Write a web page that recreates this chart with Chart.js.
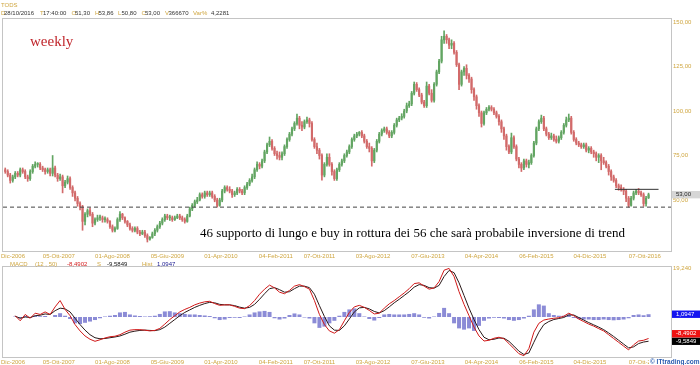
<!DOCTYPE html>
<html><head><meta charset="utf-8">
<script src="https://cdn.jsdelivr.net/npm/chart.js@4.4.0/dist/chart.umd.min.js"></script>
<style>
html,body{margin:0;padding:0;background:#fff;width:700px;height:365px;overflow:hidden;position:relative;font-family:"Liberation Sans",Arial,sans-serif;}
canvas{position:absolute;left:0;}
#c1{top:0;}
#c2{top:260px;}
.t{position:absolute;white-space:nowrap;font-size:6px;line-height:1;}
#weekly{position:absolute;left:30px;top:33.6px;font-family:"Liberation Serif","Times New Roman",serif;font-size:15px;line-height:1;color:#c0262c;white-space:nowrap;}
#note{position:absolute;left:200px;top:226px;font-family:"Liberation Serif","Times New Roman",serif;font-size:13px;line-height:1;color:#000;white-space:nowrap;}
#copy{position:absolute;left:649px;top:358.5px;font-size:6.5px;line-height:1;font-weight:bold;color:#2a5cb0;background:#fff;padding:0 2px 0 1px;white-space:nowrap;}
</style></head>
<body>
<canvas id="c1" width="700" height="260"></canvas>
<canvas id="c2" width="700" height="105"></canvas>
<div id="hdr"></div>
<div id="weekly">weekly</div>
<div id="note">46 supporto di lungo e buy in rottura dei 56 che sarà probabile inversione di trend</div>
<div id="mh"></div>
<div id="copy">© ITtrading.com</div>
<script>
// ---------- DATA (two-week candles, weeks counted from 01/12/2006) ----------
const opens = [
67,66,64,61,63,65,64,67,66,63, 62,66,69,70,70,68,67,66,67,65,
68,64,62,63,58,60,62,57,54,51, 48,46,38,42,44,42,37,39,40,40,
39,39,38,35,33,34,39,42,40,38, 36,34,33,34,32,31,32,30,28,29,
31,33,35,37,39,41,40,40,39,40, 41,40,39,38,41,45,47,49,50,53,
52,54,53,54,52,50,47,50,55,57, 56,55,53,54,56,55,54,57,59,61,
63,67,70,69,72,77,81,83,79,76, 75,74,76,80,84,87,90,93,96,92,
91,94,95,93,84,80,78,75,64,70, 74,70,66,62,67,70,72,75,77,80,
84,86,87,88,86,83,80,79,72,78, 83,87,89,90,88,86,88,92,95,96,
97,100,103,104,110,115,112,109,105,103, 114,110,106,115,122,128,140,142,140,137,
138,133,126,115,122,124,120,118,112,108, 103,99,93,99,101,102,101,99,97,94,
90,86,80,77,85,80,73,70,68,72, 70,71,75,82,90,94,96,90,87,85,
86,84,83,85,88,92,95,96,88,84, 82,81,80,81,78,79,77,76,74,75,
72,71,69,66,63,61,58,57,56,55, 51,47,51,54,55,54,53,48,51.3];
const highs = [
68,67,65,64,66,66,68,68,67,64, 67,70,71.5,71,71,69,68,68,68,75,
69,65,64.5,64,61,63.5,63,58,55,52, 49,47,43,45,45.5,43,40,41.5,41.5,41,
40.5,40,38.5,36,35,40,43.5,42.5,40.5,38.5, 37,35,35,35,33,33,33,31,29.5,32,
34,36,38,40,42,42,41.5,41,41,42, 42,41,40,42,46,48,50,51.5,54,54,
55,55,55,55,53,51,51,56,58,58, 57.5,56,55,57,57,56,58,60,62,64.5,
68,71.5,71,73,78,82,85.4,84,80,77.5, 77,77,81,85,88,91,94,98.3,97,94,
95,96.6,96,94,85,82,79,76,71,76, 76,71,67,68,71,73,76,78,81,85,
87,88,88.5,89,87,84,82,80,79,84, 88,90,91,91,89,89,93,96,97,98.5,
101,104.5,105.5,111,116.3,116,113,110,106,116.3, 115,112,116,123,129,142,145,143,141,140,
139,134,127,123,125,126,121,119,113,109, 104,100,100,102,103,103,102,100,98,95,
91,87,81,87.6,86,81,74,71,73,73, 72.5,76,83,91,95,97.7,97,91,88,87.6,
87,86,86,89,93,96.6,98.3,97,89,85, 83,82,82,82,80,80,78,77,76,76,
74,72,70,67,64,62,59,58.5,57,56, 52,52,55,56,56.5,55,54,52,53.86];
const lows = [
65,63,59.5,60,62,63,63,65,62,60.5, 61,65,68,68.5,67,66,64.5,65,63.5,63.5,
63,60.5,61,54,57,59,56,52,49.5,46.5, 44.5,33,36,40.5,41,35,36,38,38.5,37.5,
37.5,37,34,32,32,33.5,38,39,37,35, 33,32,32,31,30,30.5,29,26.4,27.5,28.5,
30,32,34,36,38,39,38.5,38,38.5,39.5, 39,38,37,37.5,40.5,44,46,48,49.5,51,
51,52,52,51,49,46,46.5,49,54,55, 54,51.5,52,53,54,53,53,56,58,60,
62,66,67.5,68,71,76,80,78,75,73, 72.5,72.5,75,79,83,86,89,92,90,89,
90,93,91,83,79,76,73,61.2,63,69, 69,64,61,61,66,69,71,74,76,79,
83,85,86,85,82,79,77,69,71,77, 82,86,88,87,85,85,87,91,94,95,
96,99,102,103,109,111,108,104,102,102, 109,105,105,114,121,127,138,138,135,135,
132,125,112,114,120,118,116,110,106,101, 97,91,92,98,100,100,98,96,92,88,
84,78,76,76,79,72,68,66,67,68.5, 68,70,74,81,89,93,89,86,84,84,
83,82,82,84,87,91,94,87,83,81, 80,79,79,77,76.5,76,74,72,71,67,
70,68,64,61,60,57,55.5,55,53,49, 46,46.5,50,53,53,52,46.5,46.5,50.8];
const closes = [
66,64,61,63,65,64,67,66,63,62, 66,69,70,70,68,67,66,67,65,68,
64,62,63,58,60,62,57,54,51,48, 46,38,42,44,42,37,39,40,40,39,
39,38,35,33,34,39,42,40,38,36, 34,33,34,32,31,32,30,28,29,31,
33,35,37,39,41,40,40,39,40,41, 40,39,38,41,45,47,49,50,53,52,
54,53,54,52,50,47,50,55,57,56, 55,53,54,56,55,54,57,59,61,63,
67,70,69,72,77,81,83,79,76,75, 74,76,80,84,87,90,93,96,92,91,
94,95,93,84,80,78,75,64,70,74, 70,66,62,67,70,72,75,77,80,84,
86,87,88,86,83,80,79,72,78,83, 87,89,90,88,86,88,92,95,96,97,
100,103,104,110,115,112,109,105,103,114, 110,106,115,122,128,140,142,140,137,138,
133,126,115,122,124,120,118,112,108,103, 99,93,99,101,102,101,99,97,94,90,
86,80,77,85,80,73,70,68,72,70, 71,75,82,90,94,96,90,87,85,86,
84,83,85,88,92,95,96,88,84,82, 81,80,81,78,79,77,76,74,75,72,
71,69,66,63,61,58,57,56,55,51, 47,51,54,55,54,53,48,51,53];
const candleFirstWeek = 1, candleStepWeeks = 2;

// MACD (12,50) panel, one reading every 4 weeks
const macdLine = [
null,null,0.5,-1.5,1.0,-0.5,1.5,1.0,2.0,1.0, 4.0,6.5,3.0,0.5,-3.0,-5.5,-7.5,-8.8,-9.6,-9.0,
-8.3,-7.8,-7.6,-7.0,-6.0,-5.2,-5.0,-5.0,-5.2,-5.5, -5.3,-4.5,-2.8,-1.0,0.5,2.0,3.0,3.8,4.8,5.5,
6.0,6.2,5.3,4.6,4.8,4.8,4.2,3.5,3.3,4.5, 6.5,9.0,11.0,12.6,11.5,9.8,9.2,10.5,12.2,12.8,
12.0,11.0,6.5,1.0,-3.0,-5.5,-6.4,-5.0,-1.5,1.8, 4.0,4.6,3.8,2.6,1.2,1.5,3.5,5.2,6.5,8.0,
9.5,11.2,13.2,13.5,12.2,11.0,11.5,14.0,18.5,19.2, 16.0,10.0,5.0,0.5,-4.0,-7.5,-9.5,-9.2,-8.4,-8.0,
-8.6,-10.5,-12.5,-14.5,-15.3,-12.5,-6.0,-2.5,-1.2,-0.8, -0.5,-0.3,0.3,1.5,0.5,-0.8,-1.8,-2.8,-3.6,-4.6,
-5.5,-7.0,-8.5,-10.0,-11.5,-13.0,-11.0,-9.5,-9.2,-8.4902];
const signalLine = [
null,null,0.3,-0.5,0.0,-0.2,0.5,0.7,1.2,1.0, 2.5,3.5,3.2,2.0,-0.5,-3.0,-5.2,-7.0,-8.2,-8.6,
-8.5,-8.2,-7.9,-7.5,-6.8,-6.0,-5.6,-5.3,-5.2,-5.3, -5.4,-5.0,-4.0,-2.5,-1.0,0.5,1.8,2.8,3.8,4.6,
5.3,5.8,5.6,5.0,4.8,4.8,4.5,3.9,3.5,3.8, 5.0,7.0,9.2,11.2,11.6,10.8,9.8,10.0,11.2,12.2,
12.2,11.6,9.0,4.5,0.2,-3.5,-5.2,-5.3,-3.5,-0.8, 2.0,3.6,3.8,3.2,2.2,1.6,2.5,4.0,5.6,7.0,
8.5,10.0,11.8,12.8,12.5,11.6,11.4,12.5,16.0,18.4, 17.5,13.5,8.5,3.5,-1.0,-5.0,-8.0,-9.0,-8.8,-8.3,
-8.4,-9.6,-11.5,-13.5,-14.8,-14.2,-10.0,-6.0,-3.0,-1.8, -1.0,-0.6,-0.2,0.8,0.8,-0.2,-1.2,-2.2,-3.1,-4.0,
-5.0,-6.3,-7.7,-9.2,-10.7,-12.2,-11.8,-10.5,-9.9,-9.5849];
const histogram = [
null,null,0.2,-0.5,0.4,-0.3,0.5,0.3,0.4,0, 0.8,1.5,0.5,-0.8,-2.5,-2.8,-2.3,-1.8,-1.2,-0.5,
0.2,0.5,0.8,1.8,2.0,1.0,0.6,0.4,0.2,0.3, 0.5,1.2,2.2,2.3,1.8,1.5,1.2,1.0,1.0,0.8,
0.6,0.4,-0.5,-1.2,-1.0,-0.4,-0.3,-0.4,0.2,1.0, 1.8,2.2,2.4,2.0,-0.5,-1.0,-0.6,0.8,1.4,1.0,
-0.2,-0.6,-2.5,-4.3,-3.8,-2.5,-1.5,0.5,2.0,3.0, 3.4,1.5,0.2,-0.8,-1.4,-0.4,1.0,1.2,1.0,1.0,
1.0,1.2,1.5,1.0,-0.3,-0.6,0.2,1.6,3.6,1.5, -2.5,-4.5,-5.0,-4.5,-5.5,-3.5,-1.5,-0.6,-0.3,-0.4,
-0.6,-1.2,-1.5,-1.2,-0.6,0.5,3.0,5.0,4.5,1.5, 0.8,0.5,0.5,1.0,-0.4,-0.8,-1.0,-1.0,-1.2,-1.2,
-1.0,-1.2,-1.3,-1.2,-1.0,-0.5,0.8,1.0,0.7,1.0947];
const macdFirstWeek = 1, macdStepWeeks = 4;

const tickLabels = ['Dic-2006','05-Ott-2007','01-Ago-2008','05-Giu-2009','01-Apr-2010','04-Feb-2011','07-Ott-2011','03-Ago-2012','07-Giu-2013','04-Apr-2014','06-Feb-2015','04-Dic-2015','07-Ott-2016'];
const tickWeeks  = [0,44,87,131,174,218,253,296,340,383,427,470,514];
const priceTicks = [50,75,100,125,150];
const macdTicks = [19.24];
const supportLevel = 46, resistanceLevel = 56, resistanceWeeks = [490,525];
const lastDate = '28/10/2016', lastTime = '17:40:00', lastVolume = 366670, lastVarPct = 4.2281;

// ---------- STYLE ----------
const GOLD = '#cfa640', DARK = '#333', UP = '#62a562', DOWN = '#d26a6a';
const FONT = '"Liberation Sans", Arial, sans-serif';
const X_MIN = -0.8, X_MAX = 535;
const fmt = (v, d) => v.toFixed(d).replace('.', ',');
const cWeek = i => candleFirstWeek + candleStepWeeks * i;
const mWeek = i => macdFirstWeek + macdStepWeeks * i;
const last = a => a[a.length - 1];

// ---------- HTML headers ----------
function addText(parent, txt, color, left, top) {
  const s = document.createElement('div');
  s.className = 't'; s.textContent = txt; s.style.color = color;
  s.style.left = left + 'px'; s.style.top = top + 'px';
  parent.appendChild(s);
}
const hdr = document.getElementById('hdr');
addText(hdr, 'TODS', GOLD, 1, 1.5);
[['D',GOLD,1],[lastDate,DARK,4],['T',GOLD,40],[lastTime,DARK,43],
 ['O',GOLD,71.5],[fmt(last(opens),2),DARK,75],['H',GOLD,95],[fmt(last(highs),2),DARK,98.5],
 ['L',GOLD,118],[fmt(last(lows),2),DARK,121.5],['C',GOLD,141.5],[fmt(last(closes),2),DARK,145],
 ['V',GOLD,165],[String(lastVolume),DARK,168.5],['Var%',GOLD,193],[fmt(lastVarPct,4),DARK,211]
].forEach(p => addText(hdr, p[0], p[1], p[2], 9.5));
const mh = document.getElementById('mh');
[['MACD',GOLD,10],['(12 , 50)',GOLD,35],[fmt(last(macdLine),4),'#d42020',67],['S',GOLD,97],
 [fmt(last(signalLine),4),'#111',107],['Hist',GOLD,142],[fmt(last(histogram),4),'#1a1a90',157]
].forEach(p => addText(mh, p[0], p[1], p[2], 261));

// ---------- plugins ----------
const framePlugin = {
  id: 'frame',
  afterDraw(chart) {
    const a = chart.chartArea, ctx = chart.ctx;
    ctx.save(); ctx.strokeStyle = '#c4c4c4'; ctx.lineWidth = 1;
    ctx.strokeRect(Math.round(a.left) - 0.5, Math.round(a.top) - 0.5, Math.round(a.right - a.left) + 1, Math.round(a.bottom - a.top) + 1);
    ctx.restore();
  }
};
function dateLabels(yPos) {
  return {
    id: 'dateLabels',
    afterDraw(chart) {
      const ctx = chart.ctx, xs = chart.scales.x;
      ctx.save(); ctx.font = '6px ' + FONT; ctx.fillStyle = GOLD;
      ctx.textAlign = 'center'; ctx.textBaseline = 'middle';
      tickWeeks.forEach((w, i) => {
        const t = tickLabels[i], half = ctx.measureText(t).width / 2;
        const x = Math.max(xs.getPixelForValue(w), half + 1);
        ctx.fillText(t, x, yPos);
      });
      ctx.restore();
    }
  };
}
function drawBoxes(chart, boxes) {
  const ctx = chart.ctx, a = chart.chartArea, ys = chart.scales.y;
  boxes.forEach(b => b.y = ys.getPixelForValue(b.v));
  boxes.sort((p, q) => q.y - p.y);
  for (let i = 1; i < boxes.length; i++) {
    if (boxes[i - 1].y - boxes[i].y < 7.5) boxes[i].y = boxes[i - 1].y - 7.5;
  }
  ctx.save(); ctx.font = '6px ' + FONT; ctx.textBaseline = 'middle'; ctx.textAlign = 'left';
  boxes.forEach(b => {
    ctx.fillStyle = b.bg; ctx.fillRect(a.right + 1, b.y - 3.7, 700 - a.right - 1, 7.4);
    ctx.fillStyle = b.fg; ctx.fillText(b.txt, a.right + 5, b.y);
  });
  ctx.restore();
}
const priceBox = { id: 'priceBox', afterDraw(chart) {
  drawBoxes(chart, [{ v: last(closes), txt: fmt(last(closes), 2), bg: '#d6d6d6', fg: '#222' }]);
}};
const macdBoxes = { id: 'macdBoxes', afterDraw(chart) {
  drawBoxes(chart, [
    { v: last(histogram), txt: fmt(last(histogram), 4), bg: '#1515f0', fg: '#fff' },
    { v: last(signalLine), txt: fmt(last(signalLine), 4), bg: '#000', fg: '#fff' },
    { v: last(macdLine), txt: fmt(last(macdLine), 4), bg: '#ee1111', fg: '#fff' }
  ]);
}};

const colorOf = i => closes[i] >= opens[i] ? UP : DOWN;
const yAxisCommon = (ticksArr, dec) => ({
  position: 'right',
  grid: { display: false, drawTicks: false },
  border: { display: false },
  afterFit: s => { s.width = 29; },
  afterBuildTicks: s => { s.ticks = ticksArr.map(v => ({ value: v })); },
  ticks: { padding: 2, color: GOLD, font: { size: 6, family: FONT }, callback: v => fmt(v, dec) }
});

// ---------- price chart ----------
new Chart(document.getElementById('c1'), {
  type: 'bar',
  data: { datasets: [
    { type: 'line', data: [{ x: X_MIN, y: supportLevel }, { x: X_MAX, y: supportLevel }],
      borderColor: '#444', borderWidth: 1, borderDash: [4, 3], pointRadius: 0, order: 0 },
    { type: 'line', data: [{ x: resistanceWeeks[0], y: resistanceLevel }, { x: resistanceWeeks[1], y: resistanceLevel }],
      borderColor: '#333', borderWidth: 1, pointRadius: 0, order: 0 },
    { type: 'bar', data: closes.map((c, i) => ({ x: cWeek(i), y: [opens[i], c] })),
      backgroundColor: ctx => colorOf(ctx.dataIndex), barThickness: 1.5, grouped: false, minBarLength: 1, order: 1 },
    { type: 'bar', data: closes.map((c, i) => ({ x: cWeek(i), y: [lows[i], highs[i]] })),
      backgroundColor: ctx => colorOf(ctx.dataIndex), barThickness: 1, grouped: false, order: 2 }
  ]},
  options: {
    responsive: false, animation: false, events: [],
    layout: { padding: { left: 3, top: 19, right: 0, bottom: 9 } },
    plugins: { legend: { display: false }, tooltip: { enabled: false } },
    scales: {
      x: { type: 'linear', min: X_MIN, max: X_MAX, display: false, offset: false },
      y: Object.assign({ min: 21.35, max: 151.7 }, yAxisCommon(priceTicks, 2))
    }
  },
  plugins: [framePlugin, dateLabels(256.5), priceBox]
});

// ---------- MACD chart ----------
new Chart(document.getElementById('c2'), {
  type: 'bar',
  data: { datasets: [
    { type: 'line', data: macdLine.map((v, i) => ({ x: mWeek(i), y: v })), borderColor: '#d01818', borderWidth: 1, pointRadius: 0, order: 0 },
    { type: 'line', data: signalLine.map((v, i) => ({ x: mWeek(i), y: v })), borderColor: '#2a1a1a', borderWidth: 1, pointRadius: 0, order: 1 },
    { type: 'bar', data: histogram.map((v, i) => ({ x: mWeek(i), y: v })), backgroundColor: 'rgba(100,100,200,0.75)',
      barPercentage: 0.8, categoryPercentage: 1, order: 2 }
  ]},
  options: {
    responsive: false, animation: false, events: [],
    layout: { padding: { left: 3, top: 7, right: 0, bottom: 8 } },
    plugins: { legend: { display: false }, tooltip: { enabled: false } },
    scales: {
      x: { type: 'linear', min: X_MIN, max: X_MAX, display: false, offset: false },
      y: Object.assign({ min: -15.81, max: 19.76 }, yAxisCommon(macdTicks, 3))
    }
  },
  plugins: [framePlugin, dateLabels(102), macdBoxes]
});
</script>
</body></html>
